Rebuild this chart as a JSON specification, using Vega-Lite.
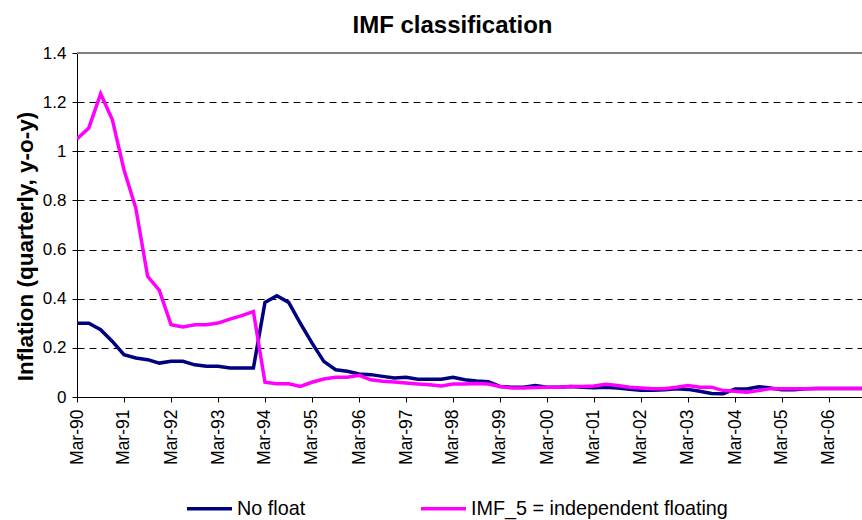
{
  "$schema": "https://vega.github.io/schema/vega-lite/v6.json",
  "autosize": "none",
  "width": 785,
  "height": 344,
  "padding": {"left": 77, "top": 53, "right": 0, "bottom": 123},
  "background": "white",
  "title": {"text": "IMF classification", "font": "Liberation Sans", "fontSize": 24, "fontWeight": "bold", "color": "#000000", "anchor": "middle", "dx": -17, "offset": 6},
  "config": {
    "font": "Liberation Sans",
    "view": {"stroke": null},
    "axis": {"domainColor": "#000000", "tickColor": "#000000", "labelColor": "#000000", "titleColor": "#000000", "labelFont": "Liberation Sans", "titleFont": "Liberation Sans"}
  },
  "data": {"values": [
    {"date": "1990-03-01", "nofloat": 0.300, "imf5": 1.050},
    {"date": "1990-06-01", "nofloat": 0.300, "imf5": 1.095},
    {"date": "1990-09-01", "nofloat": 0.274, "imf5": 1.234},
    {"date": "1990-12-01", "nofloat": 0.226, "imf5": 1.128},
    {"date": "1991-03-01", "nofloat": 0.172, "imf5": 0.925},
    {"date": "1991-06-01", "nofloat": 0.159, "imf5": 0.769},
    {"date": "1991-09-01", "nofloat": 0.152, "imf5": 0.491},
    {"date": "1991-12-01", "nofloat": 0.138, "imf5": 0.434},
    {"date": "1992-03-01", "nofloat": 0.145, "imf5": 0.294},
    {"date": "1992-06-01", "nofloat": 0.145, "imf5": 0.285},
    {"date": "1992-09-01", "nofloat": 0.131, "imf5": 0.294},
    {"date": "1992-12-01", "nofloat": 0.125, "imf5": 0.294},
    {"date": "1993-03-01", "nofloat": 0.125, "imf5": 0.301},
    {"date": "1993-06-01", "nofloat": 0.118, "imf5": 0.317},
    {"date": "1993-09-01", "nofloat": 0.118, "imf5": 0.331},
    {"date": "1993-12-01", "nofloat": 0.118, "imf5": 0.348},
    {"date": "1994-03-01", "nofloat": 0.385, "imf5": 0.060},
    {"date": "1994-06-01", "nofloat": 0.412, "imf5": 0.054},
    {"date": "1994-09-01", "nofloat": 0.385, "imf5": 0.054},
    {"date": "1994-12-01", "nofloat": 0.300, "imf5": 0.043},
    {"date": "1995-03-01", "nofloat": 0.220, "imf5": 0.060},
    {"date": "1995-06-01", "nofloat": 0.145, "imf5": 0.073},
    {"date": "1995-09-01", "nofloat": 0.111, "imf5": 0.080},
    {"date": "1995-12-01", "nofloat": 0.105, "imf5": 0.080},
    {"date": "1996-03-01", "nofloat": 0.094, "imf5": 0.088},
    {"date": "1996-06-01", "nofloat": 0.091, "imf5": 0.070},
    {"date": "1996-09-01", "nofloat": 0.084, "imf5": 0.064},
    {"date": "1996-12-01", "nofloat": 0.077, "imf5": 0.061},
    {"date": "1997-03-01", "nofloat": 0.080, "imf5": 0.057},
    {"date": "1997-06-01", "nofloat": 0.072, "imf5": 0.053},
    {"date": "1997-09-01", "nofloat": 0.072, "imf5": 0.050},
    {"date": "1997-12-01", "nofloat": 0.072, "imf5": 0.045},
    {"date": "1998-03-01", "nofloat": 0.080, "imf5": 0.053},
    {"date": "1998-06-01", "nofloat": 0.070, "imf5": 0.053},
    {"date": "1998-09-01", "nofloat": 0.065, "imf5": 0.055},
    {"date": "1998-12-01", "nofloat": 0.062, "imf5": 0.053},
    {"date": "1999-03-01", "nofloat": 0.043, "imf5": 0.043},
    {"date": "1999-06-01", "nofloat": 0.040, "imf5": 0.037},
    {"date": "1999-09-01", "nofloat": 0.040, "imf5": 0.037},
    {"date": "1999-12-01", "nofloat": 0.047, "imf5": 0.039},
    {"date": "2000-03-01", "nofloat": 0.040, "imf5": 0.040},
    {"date": "2000-06-01", "nofloat": 0.040, "imf5": 0.040},
    {"date": "2000-09-01", "nofloat": 0.043, "imf5": 0.043},
    {"date": "2000-12-01", "nofloat": 0.040, "imf5": 0.043},
    {"date": "2001-03-01", "nofloat": 0.038, "imf5": 0.045},
    {"date": "2001-06-01", "nofloat": 0.040, "imf5": 0.052},
    {"date": "2001-09-01", "nofloat": 0.037, "imf5": 0.047},
    {"date": "2001-12-01", "nofloat": 0.031, "imf5": 0.040},
    {"date": "2002-03-01", "nofloat": 0.027, "imf5": 0.037},
    {"date": "2002-06-01", "nofloat": 0.027, "imf5": 0.034},
    {"date": "2002-09-01", "nofloat": 0.030, "imf5": 0.034},
    {"date": "2002-12-01", "nofloat": 0.034, "imf5": 0.040},
    {"date": "2003-03-01", "nofloat": 0.031, "imf5": 0.047},
    {"date": "2003-06-01", "nofloat": 0.023, "imf5": 0.040},
    {"date": "2003-09-01", "nofloat": 0.014, "imf5": 0.040},
    {"date": "2003-12-01", "nofloat": 0.013, "imf5": 0.026},
    {"date": "2004-03-01", "nofloat": 0.033, "imf5": 0.023},
    {"date": "2004-06-01", "nofloat": 0.033, "imf5": 0.019},
    {"date": "2004-09-01", "nofloat": 0.042, "imf5": 0.026},
    {"date": "2004-12-01", "nofloat": 0.037, "imf5": 0.034},
    {"date": "2005-03-01", "nofloat": 0.029, "imf5": 0.034},
    {"date": "2005-06-01", "nofloat": 0.029, "imf5": 0.034},
    {"date": "2005-09-01", "nofloat": 0.034, "imf5": 0.034},
    {"date": "2005-12-01", "nofloat": 0.035, "imf5": 0.035},
    {"date": "2006-03-01", "nofloat": 0.035, "imf5": 0.035},
    {"date": "2006-06-01", "nofloat": 0.035, "imf5": 0.035},
    {"date": "2006-09-01", "nofloat": 0.035, "imf5": 0.035},
    {"date": "2006-12-01", "nofloat": 0.035, "imf5": 0.035}
  ]},
  "encoding": {
    "x": {
      "field": "date", "type": "temporal",
      "scale": {"type": "utc", "domain": [{"year": 1990, "month": 3, "date": 1, "utc": true}, {"year": 2006, "month": 11, "date": 13, "utc": true}]},
      "axis": {
        "title": null, "format": "%b-%y", "labelAngle": -90, "labelAlign": "right", "labelBaseline": "middle",
        "labelFontSize": 17.5, "labelPadding": 7, "tickSize": 5, "grid": false, "labelOverlap": false, "labelFlush": false,
        "values": [
          {"year": 1990, "month": 3, "date": 1, "utc": true}, {"year": 1991, "month": 3, "date": 1, "utc": true},
          {"year": 1992, "month": 3, "date": 1, "utc": true}, {"year": 1993, "month": 3, "date": 1, "utc": true},
          {"year": 1994, "month": 3, "date": 1, "utc": true}, {"year": 1995, "month": 3, "date": 1, "utc": true},
          {"year": 1996, "month": 3, "date": 1, "utc": true}, {"year": 1997, "month": 3, "date": 1, "utc": true},
          {"year": 1998, "month": 3, "date": 1, "utc": true}, {"year": 1999, "month": 3, "date": 1, "utc": true},
          {"year": 2000, "month": 3, "date": 1, "utc": true}, {"year": 2001, "month": 3, "date": 1, "utc": true},
          {"year": 2002, "month": 3, "date": 1, "utc": true}, {"year": 2003, "month": 3, "date": 1, "utc": true},
          {"year": 2004, "month": 3, "date": 1, "utc": true}, {"year": 2005, "month": 3, "date": 1, "utc": true},
          {"year": 2006, "month": 3, "date": 1, "utc": true}
        ]
      }
    }
  },
  "layer": [
    {
      "mark": {"type": "rule", "color": "#808080", "strokeWidth": 1},
      "encoding": {"y": {"datum": 1.4, "type": "quantitative"}, "x": null}
    },
    {
      "mark": {"type": "line", "strokeWidth": 3.5, "clip": true},
      "encoding": {
        "y": {
          "field": "nofloat", "type": "quantitative",
          "scale": {"domain": [0, 1.4], "nice": false},
          "axis": {
            "title": "Inflation (quarterly, y-o-y)", "titleFontSize": 22.5, "titleFontWeight": "bold", "titlePadding": 5, "titleY": 193,
            "values": [0, 0.2, 0.4, 0.6, 0.8, 1, 1.2, 1.4], "format": "~g",
            "labelFontSize": 17, "labelPadding": 6, "tickSize": 5,
            "grid": true, "gridColor": "#000000", "gridDash": [7, 5], "gridWidth": 1
          }
        },
        "color": {
          "datum": "No float", "type": "nominal",
          "scale": {"domain": ["No float", "IMF_5 = independent floating"], "range": ["#000080", "#FF00FF"]},
          "legend": {
            "title": null, "orient": "none", "direction": "horizontal", "legendX": 108, "legendY": 431,
            "symbolType": "stroke", "symbolSize": 2025, "symbolStrokeWidth": 3.5,
            "labelFontSize": 19.8, "labelColor": "#000000", "labelOffset": 3, "columnPadding": 108, "labelLimit": 400
          }
        }
      }
    },
    {
      "mark": {"type": "line", "strokeWidth": 3.5, "clip": true},
      "encoding": {
        "y": {"field": "imf5", "type": "quantitative"},
        "color": {"datum": "IMF_5 = independent floating", "type": "nominal"}
      }
    }
  ]
}
